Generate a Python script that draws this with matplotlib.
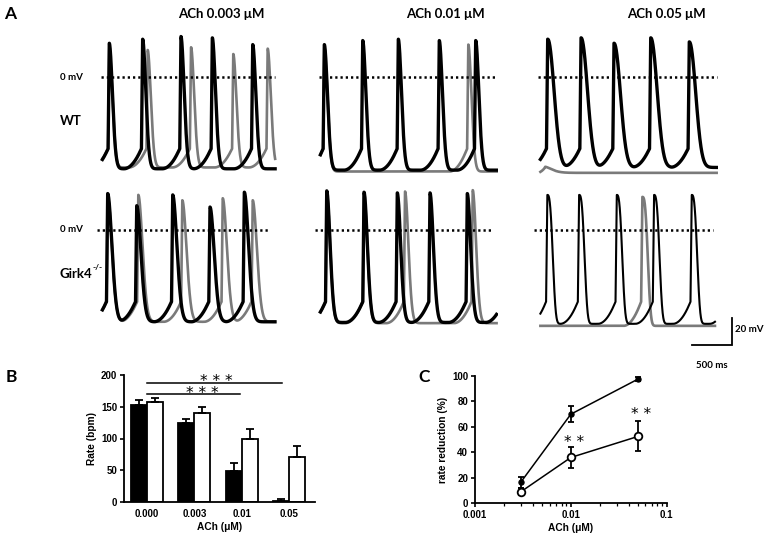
import numpy as np
import matplotlib.pyplot as plt

W, H = 764, 537

# ---------------- panel A: action potential traces ----------------
col_titles = ["ACh 0.003 \u03bcM", "ACh 0.01 \u03bcM", "ACh 0.05 \u03bcM"]
row_names = ["WT", "Girk4"]
row_sup = ["", "-/-"]

# spike peak times (ms) and peak potentials (mV), [row][column]
black_times = [[[116, 533, 1012, 1404, 1909], [79, 559, 1004, 1516, 1971], [121, 538, 950, 1409, 1891]],
               [[96, 459, 909, 1375, 1804], [109, 575, 991, 1400, 1866, 2330], [116, 513, 984, 1450, 1921, 2380]]]
black_peaks = [[[25, 28, 30, 29, 24], [24, 27, 28, 27, 27], [28, 29, 25, 29, 26]],
               [[27, 18, 26, 17, 28], [29, 28, 27.5, 27.5, 27, 27], [26, 26, 26, 26, 26, 26]]]
gray_times = [[[116, 596, 1138, 1666, 2096], [79, 1879], [90]],
              [[96, 479, 1029, 1534, 1909], [109, 575, 1088, 1934], [1304]]]
gray_peaks = [[[20, 20, 22, 17, 21], [22, 24], [-66.5]],
              [[25, 26, 22, 23.5, 22], [28, 28, 28.5, 29.5], [24.5]]]
# maximum diastolic potential (mV), [row][column]
black_mdp = [[-68, -69, -67], [-68, -68.5, -69.5]]
gray_mdp = [[-67, -70, -71], [-68, -69, -71]]

# ---------------- panel B: beating rate ----------------
doses_b = ["0.000", "0.003", "0.01", "0.05"]
rate_wt = [153, 125, 49, 2.5]
rate_wt_err = [8, 5.5, 12, 2.5]
rate_girk = [157, 140, 99, 70.5]
rate_girk_err = [7, 9, 16.5, 17.5]

# ---------------- panel C: rate reduction ----------------
ach_c = [0.003, 0.01, 0.05]
red_wt = [16.5, 70, 97.5]
red_wt_err = [4.5, 6.5, 1.8]
red_girk = [9, 36, 52.5]
red_girk_err = [2.8, 8, 11.8]

# repolarisation shape per column (tau ms, exponent) for each row
shape = [[(56, 1.9), (56, 1.9), (110, 2.1)],
         [(75, 1.9), (60, 1.9), (80, 3.0)]]


def ap_trace(t, times, peaks, mdp, tau, n, vth=-53, tup=15, tdd=220, p=2.0):
    v = np.full(t.shape, float(mdp))
    for i, (ts, vp) in enumerate(zip(times, peaks)):
        nxt = times[i + 1] if i + 1 < len(times) else np.inf
        m = (t >= ts) & (t < nxt)
        v[m] += (vp - mdp) * np.exp(-((t[m] - ts) / tau) ** n)
        t_on = ts - tup
        prev = times[i - 1] if i > 0 else -np.inf
        m = (t >= max(t_on - tdd, prev)) & (t < t_on)
        v[m] += (vth - mdp) * ((t[m] - (t_on - tdd)) / tdd) ** p
    for ts, vp in zip(times, peaks):
        t_on = ts - tup
        m = (t >= t_on) & (t < ts)
        if m.any():
            v_on = v[np.argmax(m) - 1] if np.argmax(m) > 0 else v[0]
            v[m] = v_on + (vp - v_on) * (t[m] - t_on) / tup
    return v


fig = plt.figure(figsize=(W / 100, H / 100), dpi=100)


def px_axes(left, top, right, bottom):
    return fig.add_axes([left / W, 1 - bottom / H, (right - left) / W, (bottom - top) / H])


def ftext(x, y, s, **kw):
    return fig.text(x / W, 1 - y / H, s, **kw)


MS_PX = 12.5      # ms per pixel
MV_PX = 1.35      # pixels per mV
col_x0 = [100, 318, 538]
row_zero = [77, 230]
t_end = [[2190, 2240, 2234], [2188, 2233, 2213]]
dot_span = [[(12, 2190), (12, 2240), (0, 2237)], [(-37, 2125), (-37, 2183), (-50, 2184)]]
gray_c = "#7a7a7a"

for r in range(2):
    for c in range(3):
        x0, z = col_x0[c], row_zero[r]
        ax = px_axes(x0 - 60 / MS_PX, z - 35 * MV_PX, x0 + 2250 / MS_PX, z + 90 * MV_PX)
        ax.set_xlim(-60, 2250)
        ax.set_ylim(-90, 35)
        ax.axis("off")
        tau, n = shape[r][c]
        t = np.arange(30, t_end[r][c], 1.0)
        if r == 0 and c == 2:
            vg = ap_trace(t, gray_times[r][c], gray_peaks[r][c], gray_mdp[r][c], 120, 1.5,
                          vth=-68, tdd=90)
        else:
            vg = ap_trace(t, gray_times[r][c], gray_peaks[r][c], gray_mdp[r][c], tau, n)
        vb = ap_trace(t, black_times[r][c], black_peaks[r][c], black_mdp[r][c], tau, n)
        lwb = 1.5 if (r == 1 and c == 2) else 2.4
        ax.plot(t, vg, color=gray_c, lw=1.9, solid_joinstyle="round")
        ax.plot(t, vb, color="black", lw=lwb, solid_joinstyle="round")
        a, b = dot_span[r][c]
        ax.plot([a, b], [0, 0], color="black", lw=1.8, ls=(0, (0.9, 1.2)))
        if r == 1 and c == 2:
            # scale bar: 500 ms, 20 mV
            ax.plot([1925, 2425, 2425], [-85.2, -85.2, -65.2], color="black", lw=1.3,
                    clip_on=False, solid_joinstyle="miter")

ttl_font = dict(family="Lato", weight="bold")
ftext(4, 14, "A", fontsize=12.5, va="center", ha="left", **ttl_font)
for cx, s in zip([221, 445, 666], col_titles):
    ftext(cx, 14, s, fontsize=9.5, ha="center", va="center", **ttl_font)
for z, name, sup, ly in zip(row_zero, row_names, row_sup, [121, 274]):
    ftext(60, z, "0 mV", fontsize=7, ha="left", va="center", **ttl_font)
    ftext(60, ly, name, fontsize=9.5, ha="left", va="center", **ttl_font)
    if sup:
        ftext(93, ly - 6, sup, fontsize=6, ha="left", va="center", **ttl_font)
ftext(735, 330, "20 mV", fontsize=7, ha="left", va="center", **ttl_font)
ftext(712, 366, "500 ms", fontsize=7, ha="center", va="center", **ttl_font)

# ---------------- panel B ----------------
lab_font = dict(family="Liberation Sans", weight="bold")
axB = px_axes(124, 374.7, 315, 502.3)
x = np.arange(len(doses_b))
w = 0.34
axB.bar(x - w / 2, rate_wt, w, color="black", edgecolor="black", lw=1.3)
axB.bar(x + w / 2, rate_girk, w, color="white", edgecolor="black", lw=1.3)
axB.errorbar(x - w / 2, rate_wt, yerr=[np.zeros(4), rate_wt_err], fmt="none", ecolor="black",
             elinewidth=1.3, capsize=2.6, capthick=1.3)
axB.errorbar(x + w / 2, rate_girk, yerr=[np.zeros(4), rate_girk_err], fmt="none", ecolor="black",
             elinewidth=1.3, capsize=2.6, capthick=1.3)
axB.set_xlim(-0.48, 3.54)
axB.set_ylim(0, 200)
axB.set_yticks([0, 50, 100, 150, 200])
axB.set_xticks(x)
axB.set_xticklabels(doses_b)
axB.tick_params(axis="x", length=0, pad=5)
axB.tick_params(axis="y", length=3, width=1.2, pad=2)
axB.set_ylabel("Rate (bpm)", fontsize=7.3, labelpad=3, **lab_font)
axB.set_xlabel("ACh (\u03bcM)", fontsize=7.3, labelpad=2, **lab_font)
axB.plot([0, 2.84], [186.5, 186.5], color="black", lw=1.1, clip_on=False)
axB.plot([0, 1.96], [169.3, 169.3], color="black", lw=1.1, clip_on=False)
axB.text(1.47, 183, "* * *", fontsize=11, ha="center", va="baseline")
axB.text(1.16, 163, "* * *", fontsize=11, ha="center", va="baseline")
ftext(6, 377, "B", fontsize=12.5, va="center", ha="left", **ttl_font)

# ---------------- panel C ----------------
axC = px_axes(475, 376, 666.7, 503.3)
axC.errorbar(ach_c, red_wt, yerr=red_wt_err, color="black", lw=1.1, marker="o", ms=3.6,
             mfc="black", mec="black", elinewidth=1.3, capsize=2.2, capthick=1.3)
axC.errorbar(ach_c, red_girk, yerr=red_girk_err, color="black", lw=1.1, marker="o", ms=5.5,
             mfc="white", mec="black", mew=1.3, elinewidth=1.3, capsize=2.2, capthick=1.3)
axC.set_xscale("log")
axC.set_xlim(0.001, 0.1)
axC.set_ylim(0, 100)
axC.set_yticks([0, 20, 40, 60, 80, 100])
axC.set_xticks([0.001, 0.01, 0.1])
axC.set_xticklabels(["0.001", "0.01", "0.1"])
axC.tick_params(axis="both", which="major", length=3, width=1.2, pad=2)
axC.tick_params(axis="x", which="minor", length=1.8, width=0.9)
axC.set_ylabel("rate reduction (%)", fontsize=7.3, labelpad=3, **lab_font)
axC.set_xlabel("ACh (\u03bcM)", fontsize=7.3, labelpad=2, **lab_font)
axC.text(0.0109, 44, "* *", fontsize=11, ha="center", va="baseline")
axC.text(0.0543, 66, "* *", fontsize=11, ha="center", va="baseline")
ftext(418, 377, "C", fontsize=12.5, va="center", ha="left", **ttl_font)

for ax in (axB, axC):
    for s in ("top", "right"):
        ax.spines[s].set_visible(False)
    for s in ("left", "bottom"):
        ax.spines[s].set_linewidth(1.3)
    for lab in ax.get_xticklabels() + ax.get_yticklabels():
        lab.set_fontsize(7)
        lab.set_fontfamily("Liberation Sans")
        lab.set_fontweight("bold")

fig.savefig("out.png", dpi=100)
